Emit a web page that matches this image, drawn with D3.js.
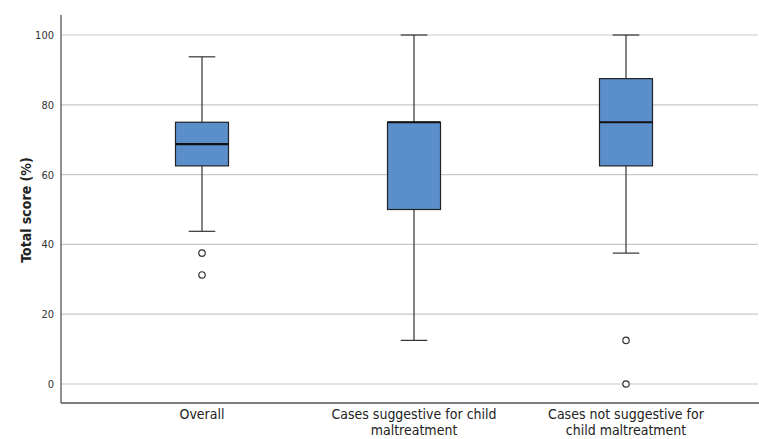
<!DOCTYPE html>
<html>
<head>
<meta charset="utf-8">
<script src="https://cdn.jsdelivr.net/npm/d3@7"></script>
<style>
  body { margin: 0; background: #fff; }
  text { font-family: "DejaVu Sans Condensed", "Liberation Sans Narrow", "DejaVu Sans", sans-serif; fill: #222; }
</style>
</head>
<body>
<svg id="chart"></svg>
<script>
var categories = ["Overall", "Cases suggestive for child|maltreatment", "Cases not suggestive for|child maltreatment"];
var whiskerLow = [43.75, 12.5, 37.5];
var q1 = [62.5, 50, 62.5];
var median = [68.75, 75, 75];
var q3 = [75, 75, 87.5];
var whiskerHigh = [93.75, 100, 100];
var outliers = [[37.5, 31.25], [], [12.5, 0]];
var yTicks = [0, 20, 40, 60, 80, 100];

var width = 759, height = 439;
var margin = {top: 15, right: 0, bottom: 36, left: 61};

var svg = d3.select("#chart")
    .attr("width", width)
    .attr("height", height);

var data = categories.map(function(c, i) {
  return {cat: c, lo: whiskerLow[i], q1: q1[i], med: median[i], q3: q3[i], hi: whiskerHigh[i], out: outliers[i]};
});

var x = d3.scaleBand()
    .domain(categories)
    .range([96, 732]);

var y = d3.scaleLinear()
    .domain([0, 100])
    .range([384, 35]);

var boxW = 53;

// gridlines
svg.selectAll(".grid")
    .data(yTicks)
  .enter().append("line")
    .attr("x1", margin.left)
    .attr("x2", width - 1)
    .attr("y1", function(d) { return y(d); })
    .attr("y2", function(d) { return y(d); })
    .style("stroke", "#c8c8c8")
    .style("stroke-width", 1.2);

// axes
var yAxis = d3.axisLeft(y).tickValues(yTicks).tickSize(0).tickPadding(7);
var gy = svg.append("g")
    .attr("transform", "translate(" + margin.left + ",0)")
    .call(yAxis);
gy.select(".domain").remove();
gy.selectAll("text").style("font-size", "11px").style("fill", "#333");

svg.append("line")
    .attr("x1", margin.left).attr("x2", margin.left)
    .attr("y1", margin.top).attr("y2", height - margin.bottom)
    .style("stroke", "#555").style("stroke-width", 1.3);
svg.append("line")
    .attr("x1", margin.left).attr("x2", width)
    .attr("y1", height - margin.bottom).attr("y2", height - margin.bottom)
    .style("stroke", "#555").style("stroke-width", 1.3);

var g = svg.selectAll(".box")
    .data(data)
  .enter().append("g")
    .attr("class", "box")
    .attr("transform", function(d) { return "translate(" + (x(d.cat) + x.bandwidth() / 2) + ",0)"; });

// whiskers
g.append("line")
    .attr("x1", 0).attr("x2", 0)
    .attr("y1", function(d) { return y(d.hi); })
    .attr("y2", function(d) { return y(d.lo); })
    .style("stroke", "#333").style("stroke-width", 1.2);
g.append("line")
    .attr("x1", -boxW / 4).attr("x2", boxW / 4)
    .attr("y1", function(d) { return y(d.hi); })
    .attr("y2", function(d) { return y(d.hi); })
    .style("stroke", "#333").style("stroke-width", 1.2);
g.append("line")
    .attr("x1", -boxW / 4).attr("x2", boxW / 4)
    .attr("y1", function(d) { return y(d.lo); })
    .attr("y2", function(d) { return y(d.lo); })
    .style("stroke", "#333").style("stroke-width", 1.2);

// boxes
g.append("rect")
    .attr("x", -boxW / 2)
    .attr("width", boxW)
    .attr("y", function(d) { return y(d.q3); })
    .attr("height", function(d) { return y(d.q1) - y(d.q3); })
    .style("fill", "#5b8fcc")
    .style("stroke", "#222")
    .style("stroke-width", 1.2);

g.append("line")
    .attr("x1", -boxW / 2).attr("x2", boxW / 2)
    .attr("y1", function(d) { return y(d.med); })
    .attr("y2", function(d) { return y(d.med); })
    .style("stroke", "#111").style("stroke-width", 2.2);

// outliers
g.selectAll(".out")
    .data(function(d) { return d.out; })
  .enter().append("circle")
    .attr("cx", 0)
    .attr("cy", function(d) { return y(d); })
    .attr("r", 3.2)
    .style("fill", "#fff")
    .style("stroke", "#333")
    .style("stroke-width", 1.2);

// category labels
var labels = svg.selectAll(".cat")
    .data(categories)
  .enter().append("text")
    .attr("text-anchor", "middle")
    .attr("x", function(d) { return x(d) + x.bandwidth() / 2; })
    .attr("y", 419)
    .style("font-size", "14px");
labels.selectAll("tspan")
    .data(function(d) { return d.split("|"); })
  .enter().append("tspan")
    .attr("x", function() { return d3.select(this.parentNode).attr("x"); })
    .attr("dy", function(d, i) { return i === 0 ? 0 : 16; })
    .text(function(d) { return d; });

svg.append("text")
    .attr("transform", "translate(31," + 210 + ") rotate(-90)")
    .attr("text-anchor", "middle")
    .style("font-size", "14px")
    .style("font-weight", "bold")
    .text("Total score (%)");
</script>
</body>
</html>
